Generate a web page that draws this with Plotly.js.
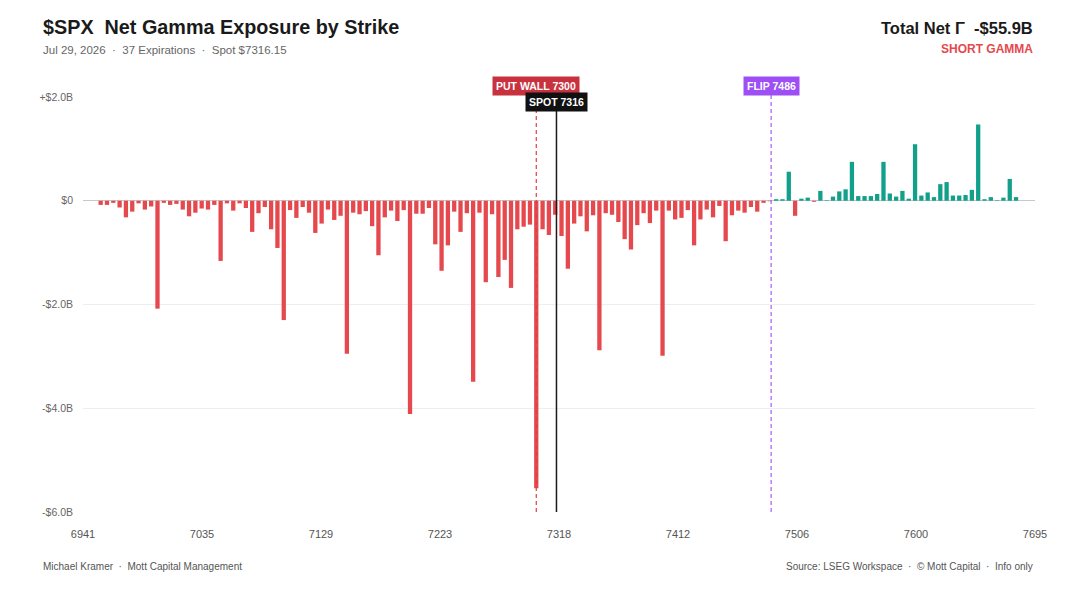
<!DOCTYPE html>
<html>
<head>
<meta charset="utf-8">
<script src="https://cdn.plot.ly/plotly-3.0.1.min.js"></script>
<style>
  html, body { margin: 0; padding: 0; background: #ffffff; }
  #chart { width: 1080px; height: 602px; }
</style>
</head>
<body>
<div id="chart"></div>
<script>
// ---- Data ----
const strikes = [
  6955, 6960, 6965, 6970, 6975, 6980, 6985, 6990, 6995, 7000,
  7005, 7010, 7015, 7020, 7025, 7030, 7035, 7040, 7045, 7050,
  7055, 7060, 7065, 7070, 7075, 7080, 7085, 7090, 7095, 7100,
  7105, 7110, 7115, 7120, 7125, 7130, 7135, 7140, 7145, 7150,
  7155, 7160, 7165, 7170, 7175, 7180, 7185, 7190, 7195, 7200,
  7205, 7210, 7215, 7220, 7225, 7230, 7235, 7240, 7245, 7250,
  7255, 7260, 7265, 7270, 7275, 7280, 7285, 7290, 7295, 7300,
  7305, 7310, 7315, 7320, 7325, 7330, 7335, 7340, 7345, 7350,
  7355, 7360, 7365, 7370, 7375, 7380, 7385, 7390, 7395, 7400,
  7405, 7410, 7415, 7420, 7425, 7430, 7435, 7440, 7445, 7450,
  7455, 7460, 7465, 7470, 7475, 7480, 7485, 7490, 7495, 7500,
  7505, 7510, 7515, 7520, 7525, 7530, 7535, 7540, 7545, 7550,
  7555, 7560, 7565, 7570, 7575, 7580, 7585, 7590, 7595, 7600,
  7605, 7610, 7615, 7620, 7625, 7630, 7635, 7640, 7645, 7650,
  7655, 7660, 7665, 7670, 7675, 7680
];

// Net gamma exposure per strike, in $ billions
const netGammaB = [
  -0.08, -0.08, -0.04, -0.13, -0.32, -0.21, -0.05, -0.17, -0.11, -2.08,
  -0.04, -0.08, -0.06, -0.17, -0.30, -0.23, -0.15, -0.17, -0.08, -1.16,
  -0.05, -0.19, -0.05, -0.14, -0.60, -0.24, -0.12, -0.55, -0.91, -2.30,
  -0.18, -0.33, -0.12, -0.23, -0.62, -0.44, -0.17, -0.37, -0.29, -2.95,
  -0.23, -0.26, -0.20, -0.49, -1.05, -0.32, -0.19, -0.39, -0.18, -4.11,
  -0.25, -0.25, -0.14, -0.84, -1.35, -0.86, -0.21, -0.60, -0.24, -3.49,
  -0.23, -1.57, -0.26, -1.47, -1.14, -1.68, -0.55, -0.50, -0.46, -5.54,
  -0.55, -0.66, -0.27, -0.68, -1.31, -0.44, -0.30, -0.59, -0.28, -2.88,
  -0.24, -0.27, -0.41, -0.74, -0.94, -0.47, -0.24, -0.43, -0.19, -2.99,
  -0.19, -0.36, -0.33, -0.18, -0.86, -0.36, -0.17, -0.32, -0.10, -0.78,
  -0.28, -0.19, -0.23, -0.12, -0.21, -0.04, -0.01, 0.03, 0.03, 0.56,
  -0.29, 0.04, 0.06, -0.02, 0.19, 0.01, 0.08, 0.18, 0.22, 0.75,
  0.09, 0.09, 0.09, 0.13, 0.75, 0.14, 0.08, 0.19, 0.04, 1.09,
  0.10, 0.16, 0.07, 0.32, 0.36, 0.10, 0.10, 0.11, 0.21, 1.47,
  0.03, 0.07, 0.01, 0.06, 0.42, 0.07
];

const xRange = [6941, 7695];
const xTickLabels = ['6941', '7035', '7129', '7223', '7318', '7412', '7506', '7600', '7695'];
const yTickVals = [2, 0, -2, -4, -6];
const yTickLabels = ['+$2.0B', '$0', '-$2.0B', '-$4.0B', '-$6.0B'];
const yRange = [-6, 2];

const putWall = 7300;
const spot = 7316;
const flip = 7486;

const titleText = '$SPX\u00A0 Net Gamma Exposure by Strike';
const subtitleText = 'Jul 29, 2026 \u00A0·\u00A0 37 Expirations \u00A0·\u00A0 Spot $7316.15';
const totalText = 'Total Net \u0393\u00A0 -$55.9B';
const regimeText = 'SHORT GAMMA';
const footerLeft = 'Michael Kramer \u00A0·\u00A0 Mott Capital Management';
const footerRight = 'Source: LSEG Workspace \u00A0·\u00A0 © Mott Capital \u00A0·\u00A0 Info only';

// ---- Layout helpers (pixel -> paper) ----
const W = 1080, H = 602;
const M = { l: 83, r: 45, t: 97, b: 90 };
const PW = W - M.l - M.r, PH = H - M.t - M.b;
const px = x => (x - M.l) / PW;
const py = y => (H - M.b - y) / PH;

const RED = '#e5484d';
const TEAL = '#12a08b';
const FONT = 'Liberation Sans, Arial, Helvetica, sans-serif';

const tickVals = xTickLabels.map((_, i) => xRange[0] + i * (xRange[1] - xRange[0]) / (xTickLabels.length - 1));

const trace = {
  type: 'bar',
  x: strikes,
  y: netGammaB,
  marker: { color: netGammaB.map(v => v >= 0 ? TEAL : RED), line: { width: 0 } },
  hoverinfo: 'skip'
};

const vline = (x, color, dash, width) => ({
  type: 'line', xref: 'x', yref: 'paper',
  x0: x, x1: x, y0: 0, y1: py(90),
  line: { color: color, dash: dash, width: width },
  layer: 'above'
});

const tag = (x, y, text, bg) => ({
  xref: 'x', yref: 'paper', x: x, y: py(y),
  text: '<b>' + text + '</b>', showarrow: false,
  font: { family: FONT, size: 10.5, color: '#ffffff' },
  bgcolor: bg, borderpad: 3, xanchor: 'center', yanchor: 'middle'
});

const txt = (x, y, text, size, color, anchor, bold) => ({
  xref: 'paper', yref: 'paper', x: px(x), y: py(y),
  text: bold ? '<b>' + text + '</b>' : text, showarrow: false,
  font: { family: FONT, size: size, color: color },
  xanchor: anchor, yanchor: 'middle'
});

const layout = {
  width: W, height: H,
  margin: M,
  paper_bgcolor: '#ffffff',
  plot_bgcolor: '#ffffff',
  bargap: 0.32,
  showlegend: false,
  font: { family: FONT },
  xaxis: {
    range: xRange,
    tickvals: tickVals,
    ticktext: xTickLabels,
    showgrid: false,
    zeroline: false,
    showline: false,
    ticks: '',
    ticklabelstandoff: 14,
    tickfont: { family: FONT, size: 11, color: '#555555' },
    fixedrange: true
  },
  yaxis: {
    range: yRange,
    tickvals: yTickVals,
    ticktext: yTickLabels,
    showgrid: true,
    gridcolor: '#eeeeee',
    gridwidth: 1,
    zeroline: true,
    zerolinecolor: '#c8c8c8',
    zerolinewidth: 1,
    showline: false,
    ticks: '',
    ticklabelstandoff: 9,
    tickfont: { family: FONT, size: 10.5, color: '#666666' },
    fixedrange: true
  },
  shapes: [
    vline(putWall, '#d8404b', '4px,3px', 1.2),
    vline(spot, '#1a1a1a', 'solid', 1.5),
    vline(flip, '#a55cf5', '4px,3px', 1.2)
  ],
  annotations: [
    tag(putWall, 86, 'PUT WALL 7300', '#c8323f'),
    tag(spot, 102, 'SPOT 7316', '#111111'),
    tag(flip, 86, 'FLIP 7486', '#9d4ef5'),
    txt(41, 27, titleText, 19.8, '#1a1a1a', 'left', true),
    txt(41, 50, subtitleText, 11.5, '#666666', 'left', false),
    txt(1035, 28, totalText, 16.5, '#1a1a1a', 'right', true),
    txt(1035, 49, regimeText, 12, RED, 'right', true),
    txt(41, 566, footerLeft, 10, '#555555', 'left', false),
    txt(1035, 566, footerRight, 10, '#555555', 'right', false)
  ]
};

Plotly.newPlot('chart', [trace], layout, { staticPlot: true, displayModeBar: false });
</script>
</body>
</html>
